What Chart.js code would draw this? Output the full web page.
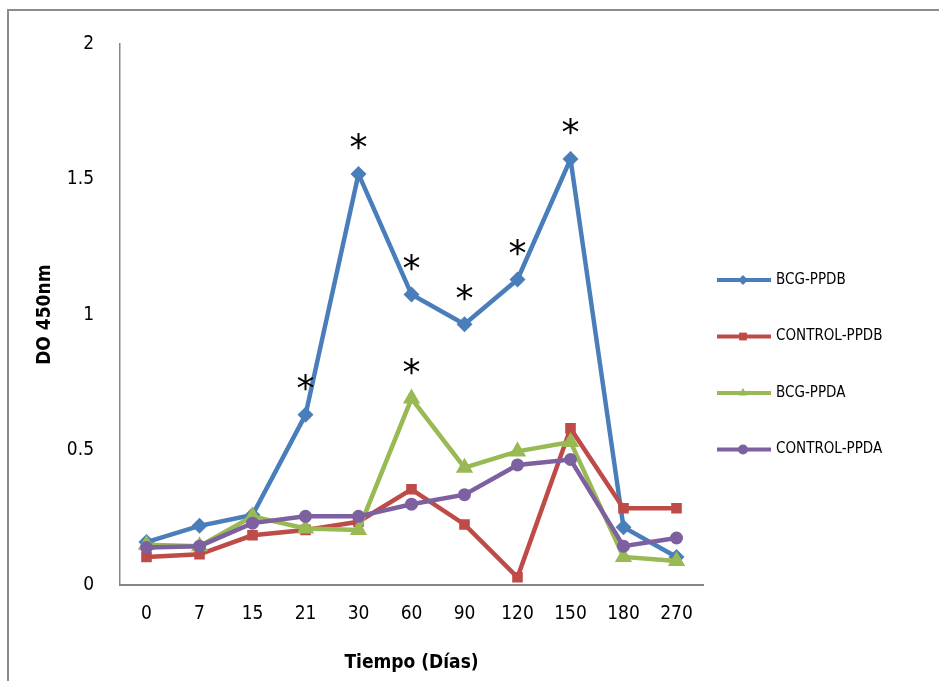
<!DOCTYPE html>
<html lang="es">
<head>
  <meta charset="UTF-8" />
  <title>DO 450nm</title>
  <script src="https://cdn.jsdelivr.net/npm/chart.js"></script>
  <style>
    html, body { margin: 0; padding: 0; background: #fff; }
    #wrap { position: relative; width: 939px; height: 681px; }
    #frame { position: absolute; left: 7px; top: 9px; right: -10px; bottom: -10px; border: 2px solid #8c8c8c; }
  </style>
</head>
<body>
  <div id="wrap">
    <div id="frame"></div>
    <canvas id="chart" width="939" height="681"></canvas>
  </div>

  <script>
    const days = ["0", "7", "15", "21", "30", "60", "90", "120", "150", "180", "270"];
    const bcgPPDB = [0.16, 0.22, 0.26, 0.63, 1.52, 1.075, 0.965, 1.13, 1.575, 0.215, 0.105];
    const controlPPDB = [0.105, 0.115, 0.185, 0.205, 0.235, 0.355, 0.225, 0.03, 0.58, 0.285, 0.285];
    const bcgPPDA = [0.15, 0.145, 0.255, 0.21, 0.205, 0.69, 0.435, 0.495, 0.53, 0.105, 0.09];
    const controlPPDA = [0.14, 0.145, 0.23, 0.255, 0.255, 0.3, 0.335, 0.445, 0.465, 0.145, 0.175];
    // significance marks (*)
    const sigPPDB = [false, false, false, true, true, true, true, true, true, false, false];
    const sigPPDA = [false, false, false, false, false, true, false, false, false, false, false];
    const yTicks = [0, 0.5, 1, 1.5, 2];

    const tickFont = "'Liberation Sans Narrow', 'DejaVu Sans Condensed', sans-serif";

    function series(label, data, color, style, radius, order) {
      return {
        label, data, order,
        borderColor: color, backgroundColor: color,
        borderWidth: 4.5,
        pointStyle: style, pointRadius: radius, pointHoverRadius: radius,
        pointBorderWidth: 0,
        tension: 0
      };
    }

    const datasets = [
      series("BCG-PPDB", bcgPPDB, "#4a7ebb", "rectRot", 8, 4),
      series("CONTROL-PPDB", controlPPDB, "#be4b48", "rect", 7.5, 3),
      series("BCG-PPDA", bcgPPDA, "#98b954", "triangle", 10, 2),
      series("CONTROL-PPDA", controlPPDA, "#7d60a0", "circle", 6.5, 1)
    ];

    // asterisks above significant points
    const starPlugin = {
      id: "stars",
      afterDatasetsDraw(chart) {
        const ctx = chart.ctx;
        ctx.save();
        ctx.fillStyle = "#000";
        ctx.font = "36px 'DejaVu Sans', sans-serif";
        ctx.textAlign = "center";
        ctx.textBaseline = "middle";
        [[0, sigPPDB], [2, sigPPDA]].forEach(([di, flags]) => {
          const meta = chart.getDatasetMeta(di);
          flags.forEach((f, i) => {
            if (!f) return;
            const p = meta.data[i];
            ctx.fillText("*", p.x, p.y - 24);
          });
        });
        ctx.restore();
      }
    };

    // legend drawn as line + marker, Excel style
    const legendPlugin = {
      id: "sideLegend",
      afterDraw(chart) {
        const ctx = chart.ctx;
        ctx.save();
        datasets.forEach((ds, i) => {
          const y = 280 + i * 56.5;
          ctx.strokeStyle = ds.borderColor;
          ctx.fillStyle = ds.borderColor;
          ctx.lineWidth = 4;
          ctx.beginPath();
          ctx.moveTo(717, y);
          ctx.lineTo(771, y);
          ctx.stroke();
          Chart.helpers.drawPoint(ctx, {
            pointStyle: ds.pointStyle,
            radius: ds.pointStyle === "rect" ? 5.5 : 5,
            borderWidth: 0
          }, 743, y);
          ctx.fillStyle = "#000";
          ctx.font = "15px 'DejaVu Sans Condensed', sans-serif";
          ctx.textBaseline = "middle";
          ctx.fillText(ds.label, 776, y);
        });
        ctx.restore();
      }
    };

    new Chart(document.getElementById("chart"), {
      type: "line",
      data: { labels: days, datasets },
      options: {
        responsive: false,
        animation: false,
        layout: { padding: { top: 44, right: 236, left: 30, bottom: 0 } },
        plugins: { legend: { display: false }, tooltip: { enabled: false } },
        scales: {
          x: {
            offset: true,
            grid: { display: false, drawTicks: false },
            border: { color: "#868686", width: 2 },
            ticks: { color: "#000", font: { family: tickFont, size: 19 }, padding: 17 },
            title: {
              display: true, text: "Tiempo (Días)", color: "#000",
              font: { family: tickFont, size: 19, weight: "bold" }, padding: { top: 9, bottom: 7 }
            }
          },
          y: {
            min: 0, max: 2,
            afterBuildTicks: (axis) => { axis.ticks = yTicks.map(v => ({ value: v })); },
            afterFit: (axis) => { axis.width = 90; },
            grid: { display: false, drawTicks: false },
            border: { color: "#868686", width: 1.5 },
            ticks: {
              color: "#000", font: { family: tickFont, size: 19 }, padding: 26,
              callback: (v) => String(v)
            },
            title: {
              display: true, text: "DO 450nm", color: "#000",
              font: { family: tickFont, size: 19, weight: "bold" }, padding: { bottom: 16 }
            }
          }
        }
      },
      plugins: [starPlugin, legendPlugin]
    });
  </script>
</body>
</html>
